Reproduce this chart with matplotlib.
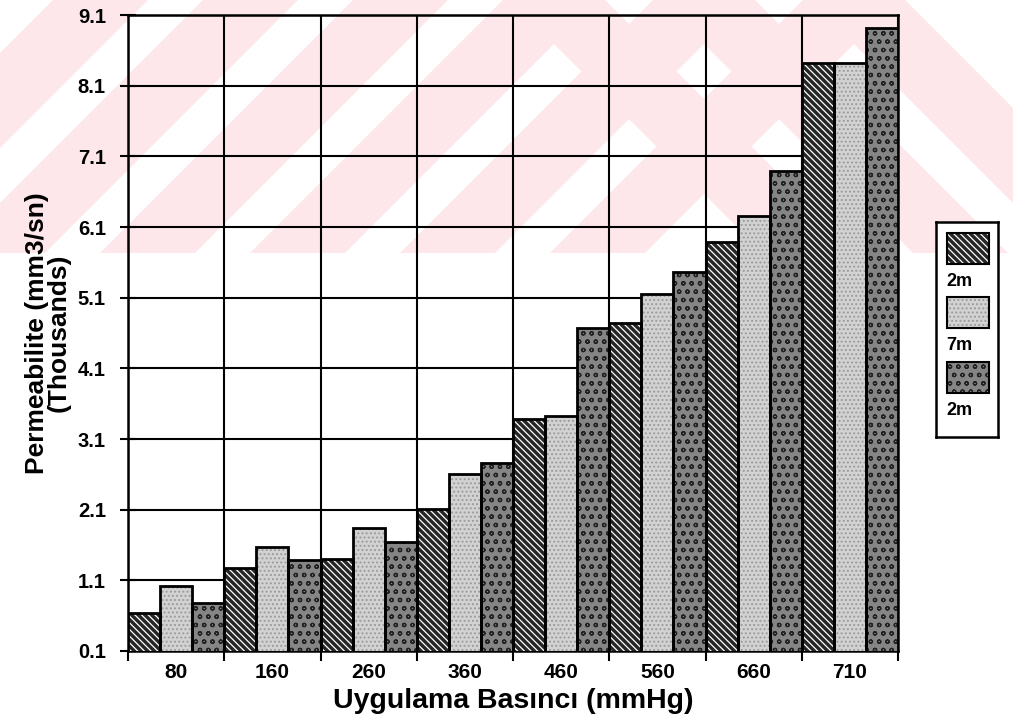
import matplotlib
matplotlib.use("Agg")
import matplotlib.pyplot as plt
from matplotlib.patches import Rectangle, Polygon
import numpy as np

# ---- data ----
categories = ["80", "160", "260", "360", "460", "560", "660", "710"]
series_names = ["2m", "7m", "2m"]
s_hatched = [0.64, 1.27, 1.40, 2.11, 3.38, 4.74, 5.89, 8.42]
s_light = [1.02, 1.57, 1.84, 2.60, 3.42, 5.15, 6.25, 8.42]
s_dark = [0.78, 1.39, 1.64, 2.76, 4.67, 5.46, 6.89, 8.92]
yticks = [0.1, 1.1, 2.1, 3.1, 4.1, 5.1, 6.1, 7.1, 8.1, 9.1]

plt.rcParams['font.family'] = ['Liberation Sans', 'DejaVu Sans']
plt.rcParams['font.weight'] = 'bold'
plt.rcParams['hatch.linewidth'] = 0.9

W, H = 1013, 721
fig = plt.figure(figsize=(W / 100, H / 100), dpi=100)

# ---- faint watermark (pink diagonal bands in upper area, behind everything) ----
pink = '#fde7eb'
def px(x, y):
    return (x / W, 1 - y / H)
ytop, ybot = 0, 253
for c in range(-200, 560, 150):
    x0, x1 = c, c + 95
    poly = [px(x0 + (ybot - ytop), ytop), px(x1 + (ybot - ytop), ytop), px(x1, ybot), px(x0, ybot)]
    fig.patches.append(Polygon(poly, closed=True, transform=fig.transFigure,
                               facecolor=pink, edgecolor='none', zorder=-5))
for c in range(560, 1000, 150):
    x0, x1 = c, c + 95
    poly = [px(x0 - 50, ytop), px(x1 - 50, ytop), px(x1 - 50 + (ybot - ytop), ybot), px(x0 - 50 + (ybot - ytop), ybot)]
    fig.patches.append(Polygon(poly, closed=True, transform=fig.transFigure,
                               facecolor=pink, edgecolor='none', zorder=-5))

ax = fig.add_axes([128 / W, 1 - 651 / H, (898 - 128) / W, (651 - 15) / H])
ax.patch.set_alpha(0)

n = len(categories)
idx = np.arange(n)
bw = 1 / 3
x1 = idx + bw * 0.5
x2 = idx + bw * 1.5
x3 = idx + bw * 2.5

def draw_series(x, vals, face, hatch=None, hcol=None):
    ax.bar(x, vals, width=bw, color=face, edgecolor='none', linewidth=0, zorder=3)
    if hatch:
        ax.bar(x, vals, width=bw, color='none', edgecolor=hcol, hatch=hatch,
               linewidth=0, zorder=3.5)
    ax.bar(x, vals, width=bw, color='none', edgecolor='black', linewidth=2.0, zorder=4)

draw_series(x1, s_hatched, '#262626', '\\\\\\\\\\', 'white')
draw_series(x2, s_light, '#d2d2d2', '....', '#9a9a9a')
draw_series(x3, s_dark, '#858585', 'oo', '#222222')

ax.set_xlim(0, n)
ax.set_ylim(0.1, 9.1)

ax.set_yticks(yticks)
ax.set_yticklabels([f"{v:.1f}" for v in yticks])
ax.set_xticks(np.arange(n + 1))
ax.set_xticklabels([])
ax.set_xticks(idx + 0.5, minor=True)
ax.set_xticklabels(categories, minor=True)
ax.grid(True, which='major', color='black', linewidth=1.5, zorder=1)
ax.set_axisbelow(True)

ax.tick_params(axis='y', direction='inout', length=12, width=1.5, pad=10, labelsize=14.5)
ax.tick_params(axis='x', which='major', direction='out', length=7, width=1.5)
ax.tick_params(axis='x', which='minor', length=0, pad=9, labelsize=15)
for sp in ax.spines.values():
    sp.set_linewidth(1.8)
    sp.set_color('black')

ax.set_xlabel("Uygulama Basıncı (mmHg)", fontsize=20.5, fontweight='bold', labelpad=4)
ax.set_ylabel("Permeabilite (mm3/sn)\n(Thousands)", fontsize=19, fontweight='bold',
              labelpad=5, linespacing=0.9)

# ---- legend (manual) ----
lax = fig.add_axes([936 / W, 1 - 437 / H, 62 / W, 215 / H])
lax.set_xlim(0, 62)
lax.set_ylim(215, 0)
lax.set_xticks([])
lax.set_yticks([])
for sp in lax.spines.values():
    sp.set_linewidth(1.8)
styles = [('#262626', '\\\\\\\\\\', 'white'), ('#d2d2d2', '....', '#9a9a9a'), ('#858585', 'oo', '#222222')]
tops = [11, 75, 140]
for (face, hatch, hcol), t, name in zip(styles, tops, series_names):
    lax.add_patch(Rectangle((11, t), 42, 31, facecolor=face, edgecolor='none'))
    lax.add_patch(Rectangle((11, t), 42, 31, facecolor='none', edgecolor=hcol, hatch=hatch, linewidth=0))
    lax.add_patch(Rectangle((11, t), 42, 31, facecolor='none', edgecolor='black', linewidth=1.5))
    lax.text(10, t + 49, name, fontsize=13, fontweight='bold', va='center', ha='left')

fig.savefig("out.png", dpi=100)
